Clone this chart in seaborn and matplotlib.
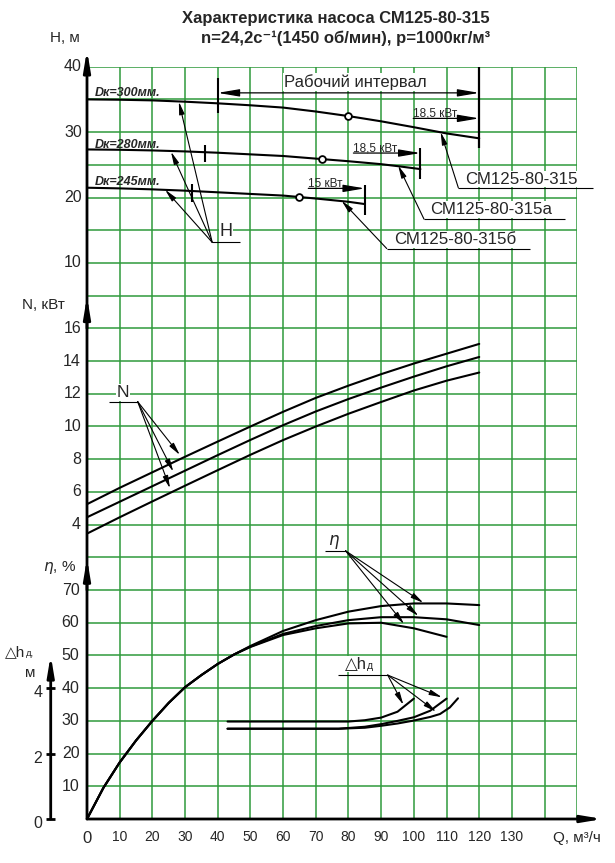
import matplotlib
matplotlib.use('Agg')

import numpy as np
import seaborn as sns
from matplotlib import pyplot as plt

# --- data ---
# head H (m) for three impeller diameters
q_h300 = [0, 10, 20, 30, 40, 50, 60, 70, 80, 90, 100, 110, 120]
h300 = [35.0, 34.95, 34.85, 34.65, 34.4, 34.1, 33.75, 33.15, 32.45, 31.65, 30.75, 29.8, 29.05]
q_h280 = [0, 10, 20, 30, 40, 50, 60, 70, 80, 90, 95, 102]
h280 = [27.35, 27.3, 27.2, 27.05, 26.85, 26.6, 26.35, 25.95, 25.55, 25.1, 24.8, 24.35]
q_h245 = [0, 10, 20, 30, 40, 50, 60, 70, 80, 85]
h245 = [21.5, 21.4, 21.25, 21.05, 20.8, 20.55, 20.3, 19.85, 19.35, 19.0]
q_duty = [80, 72, 65]
h_duty = [32.45, 25.85, 20.1]

# power N (kW)
q_n = [0, 10, 20, 30, 40, 50, 60, 70, 80, 90, 100, 110, 120]
n_top = [5.25, 6.25, 7.2, 8.15, 9.08, 10.0, 10.9, 11.75, 12.5, 13.2, 13.85, 14.45, 15.05]
n_mid = [4.45, 5.4, 6.35, 7.3, 8.25, 9.18, 10.08, 10.92, 11.68, 12.38, 13.05, 13.68, 14.25]
n_bot = [3.45, 4.45, 5.42, 6.38, 7.33, 8.27, 9.17, 10.0, 10.78, 11.5, 12.2, 12.8, 13.3]

# efficiency (%)
q_eta = [0, 5, 10, 15, 20, 25, 30, 35, 40, 45, 50, 60, 70, 80, 90, 100, 110, 120]
eta_top = [0, 9.5, 17.3, 24.0, 30.0, 35.5, 40.3, 44.0, 47.4, 50.3, 52.9, 57.5, 60.8, 63.4, 65.1, 65.9, 65.9, 65.4]
eta_mid = [0, 9.5, 17.3, 24.0, 30.0, 35.5, 40.3, 44.0, 47.4, 50.3, 52.7, 56.6, 59.0, 60.8, 61.7, 61.7, 61.05, 59.3]
eta_bot = [0, 9.5, 17.3, 24.0, 30.0, 35.5, 40.3, 44.0, 47.4, 50.3, 52.6, 56.25, 58.3, 59.8, 60.0, 58.3, 55.7]

# NPSH dh (m)
q_dh_a = [43, 60, 80, 85, 90, 95, 100]
dh_a = [2.98, 2.98, 2.98, 3.02, 3.1, 3.28, 3.68]
q_dh_b = [43, 60, 77, 85, 90, 95, 100, 105, 110]
dh_b = [2.76, 2.76, 2.76, 2.82, 2.9, 3.0, 3.11, 3.31, 3.68]
q_dh_c = [43, 60, 77, 85, 90, 95, 100, 105, 108, 111, 113.5]
dh_c = [2.76, 2.76, 2.76, 2.79, 2.85, 2.92, 3.01, 3.12, 3.21, 3.41, 3.69]

q_ticks = [0, 10, 20, 30, 40, 50, 60, 70, 80, 90, 100, 110, 120, 130]
h_ticks = [10, 20, 30, 40]
n_ticks = [4, 6, 8, 10, 12, 14, 16]
eta_ticks = [10, 20, 30, 40, 50, 60, 70]
dh_ticks = [0, 2, 4]


# all scales share one grid: 10 units per cell
def yh(h):
    return 150 + 2 * np.asarray(h, dtype=float)


def yn(n):
    return 70 + 5 * np.asarray(n, dtype=float)


def yd(d):
    return 10 * np.asarray(d, dtype=float)


sns.set_style('white')
plt.rcParams['font.family'] = ['Liberation Sans', 'DejaVu Sans']

GRID = '#2f9a3c'
K = 'black'

fig = plt.figure(figsize=(6.15, 8.63), dpi=100)
ax = fig.add_axes([87 / 615, 44 / 863, 490.3 / 615, 752.3 / 863])
ax.set_xlim(0, 150)
ax.set_ylim(0, 230)
ax.set_xticks(np.arange(0, 151, 10))
ax.set_yticks(np.arange(0, 231, 10))
ax.grid(True, color=GRID, lw=1.1)
ax.set_axisbelow(True)
ax.tick_params(length=0, labelbottom=False, labelleft=False)
for s in ax.spines.values():
    s.set_visible(False)


def curve(q, y):
    sns.lineplot(x=q, y=y, ax=ax, color=K, lw=1.5, estimator=None, sort=False)


def arr(p0, p1, style='-|>', hl=0.75, hw=0.16, lw=0.8):
    ax.annotate('', xy=p1, xytext=p0,
                arrowprops=dict(arrowstyle=f'{style},head_length={hl},head_width={hw}',
                                color=K, lw=lw, shrinkA=0, shrinkB=0, mutation_scale=10),
                annotation_clip=False)


def seg(xs, ys, lw=0.8):
    ax.plot(xs, ys, color=K, lw=lw, clip_on=False, solid_capstyle='butt')


def dh_text(x, y, size, tail='', bbox=None):
    t = ax.text(x, y, '△h', ha='left', va='center', fontsize=size, bbox=bbox)
    ax.annotate('д' + tail, xy=(1, 0.05), xycoords=t, ha='left', va='bottom',
                fontsize=size * 0.62, bbox=bbox)


WB = dict(facecolor='white', edgecolor='none', pad=0.5)

# --- curves ---
curve(q_h300, yh(h300))
curve(q_h280, yh(h280))
curve(q_h245, yh(h245))
sns.scatterplot(x=q_duty, y=yh(h_duty), ax=ax, s=24, color='white',
                edgecolor=K, linewidth=1.3, zorder=5)
curve(q_n, yn(n_top))
curve(q_n, yn(n_mid))
curve(q_n, yn(n_bot))
curve(q_eta, eta_top)
curve(q_eta, eta_mid)
curve(q_eta[:len(eta_bot)], eta_bot)
curve(q_dh_a, yd(dh_a))
curve(q_dh_b, yd(dh_b))
curve(q_dh_c, yd(dh_c))

# --- axes lines and arrows ---
arr((0, 0), (157.8, 0), hl=1.2, hw=0.2, lw=2)
arr((0, 0), (0, 235.1), hl=1.2, hw=0.2, lw=2)
arr((0, 150), (0, 159.7), hl=1.2, hw=0.2, lw=2)
arr((0, 70), (0, 79.7), hl=1.2, hw=0.2, lw=2)
arr((-11.1, 0), (-11.1, 50.1), hl=1.2, hw=0.2, lw=2)
for v in dh_ticks:
    seg([-12.4, -9.9], [yd(v)] * 2, lw=2)
    ax.text(-15.1, yd(v) - 1.4, str(v), ha='center', va='center', fontsize=11.5)

# tick labels
for h in h_ticks:
    ax.text(-1.6, yh(h), str(h), ha='right', va='center', fontsize=11.5)
for n in n_ticks:
    ax.text(-1.8, yn(n), str(n), ha='right', va='center', fontsize=11.5)
for e in eta_ticks:
    ax.text(-2.3, e, str(e), ha='right', va='center', fontsize=11.5)
for q in q_ticks:
    if q == 0:
        ax.text(q, -6.0, '0', ha='center', va='center', fontsize=12)
    else:
        ax.text(q, -5.6, str(q), ha='center', va='center', fontsize=10)

ax.text(-6.7, 238.8, 'H, м', ha='center', va='center', fontsize=11)
ax.text(-13.3, 157.1, 'N, кВт', ha='center', va='center', fontsize=11)
ax.text(-8.3, 76.8, r'$\eta$, %', ha='center', va='center', fontsize=11)
dh_text(-25.0, 51.0, 11, tail=',')
ax.text(-17.4, 44.6, 'м', ha='center', va='center', fontsize=11)
ax.text(149.8, -5.8, 'Q, м³/ч', ha='center', va='center', fontsize=11)

# --- title ---
fig.text(336 / 615, 1 - 18 / 863, 'Характеристика насоса СМ125-80-315',
         ha='center', va='center', fontsize=12, fontweight='bold')
fig.text(346 / 615, 1 - 38 / 863, 'n=24,2с⁻¹(1450 об/мин), р=1000кг/м³',
         ha='center', va='center', fontsize=12, fontweight='bold')

# --- head annotations ---
dk = dict(fontsize=9, fontweight='bold', style='italic', va='baseline', ha='left')
ax.text(2.4, 221.0, 'Dк=300мм.', **dk)
ax.text(2.4, 205.2, 'Dк=280мм.', **dk)
ax.text(2.4, 193.9, 'Dк=245мм.', **dk)

# working interval
seg([40, 40], [215.7, 226.4], lw=1.5)
seg([120, 120], [205.0, 230.0], lw=1.6)
arr((40, 222.0), (120, 222.0), style='<|-|>', hl=1.3, hw=0.22, lw=0.9)
ax.text(82, 225.3, 'Рабочий интервал', ha='center', va='center', fontsize=12, bbox=WB)

# motor power limits
kw = dict(fontsize=8.5, ha='left', va='baseline')
arr((99.8, 214.2), (120, 214.2), hl=1.3, hw=0.22, lw=0.9)
ax.text(99.8, 214.7, '18,5 кВт', **kw)
seg([102, 102], [195.8, 205.0], lw=1.5)
seg([36.1, 36.1], [201.0, 206.0], lw=1.5)
arr((81.5, 203.6), (102, 203.6), hl=1.3, hw=0.22, lw=0.9)
ax.text(81.5, 204.1, '18,5 кВт', **kw)
seg([85, 85], [184.8, 193.8], lw=1.5)
seg([32, 32], [188.6, 194.0], lw=1.5)
arr((67.7, 192.8), (85, 192.8), hl=1.3, hw=0.22, lw=0.9)
ax.text(67.7, 193.3, '15 кВт', **kw)

# model labels
models = [('СМ125-80-315', 115.7, 195.6, 113.6, 154.7, 193.0, (108.2, 210.0)),
          ('СМ125-80-315а', 104.9, 186.3, 103.1, 146.3, 183.4, (95.2, 199.8)),
          ('СМ125-80-315б', 94.1, 177.2, 91.7, 135.5, 174.4, (77.9, 189.0))]
for name, tx, ty, u0, u1, uy, tip in models:
    ax.text(tx, ty, name, ha='left', va='center', fontsize=12.2, bbox=WB)
    seg([u0, u1], [uy, uy])
    arr((u0, uy), tip)

# H leaders
ax.text(42.5, 179.5, 'H', ha='center', va='center', fontsize=13, bbox=WB)
seg([38.3, 46.9], [176.3, 176.3])
for tip in [(28.1, 219.3), (25.7, 204.0), (23.9, 192.4)]:
    arr((38.3, 176.3), tip)

# N leaders
ax.text(11.0, 130.4, 'N', ha='center', va='center', fontsize=12.5, bbox=WB)
seg([6.7, 15.5], [127.6, 127.6])
for tip in [(28.4, 111.3), (26.4, 106.2), (25.4, 101.1)]:
    arr((15.5, 127.6), tip)

# eta leaders
ax.text(75.5, 84.8, r'$\eta$', ha='center', va='center', fontsize=12)
seg([72.9, 79.1], [82.0, 82.0])
for tip in [(102.9, 66.1), (101.4, 62.06), (97.0, 59.6)]:
    arr((79.1, 82.0), tip)

# dh leaders
dh_text(78.9, 47.3, 12, bbox=WB)
seg([76.7, 92.0], [44.0, 44.0])
for tip in [(96.8, 34.9), (108.6, 37.2), (106.8, 32.8)]:
    arr((92.0, 44.0), tip)

fig.savefig('out.png', dpi=100, facecolor='white')
